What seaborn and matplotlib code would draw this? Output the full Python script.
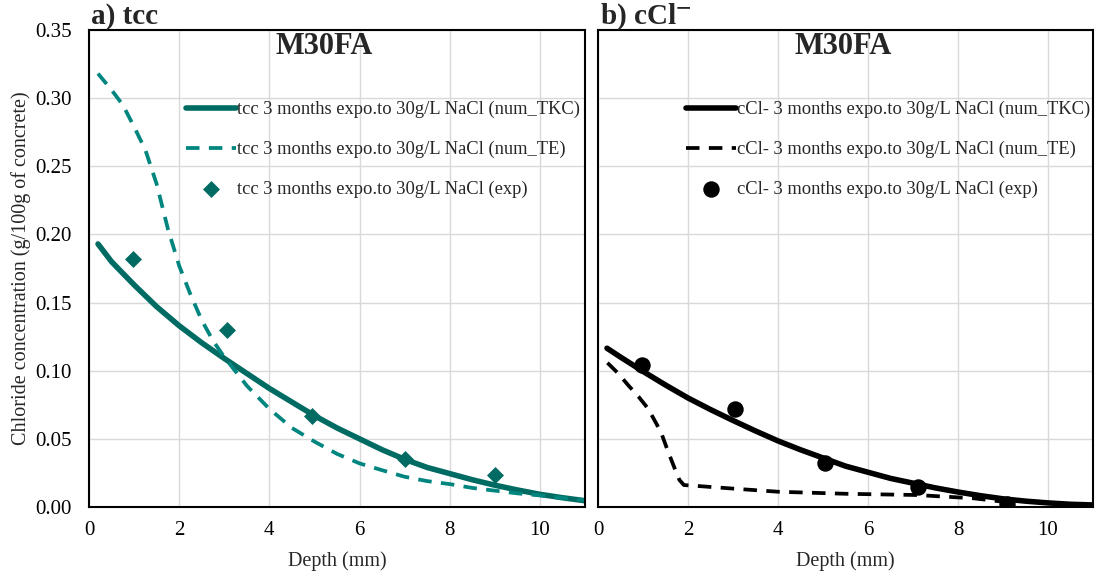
import matplotlib
matplotlib.use("Agg")
import matplotlib.pyplot as plt
import seaborn as sns

# ---- data ----
tcc_tkc_x = [0.2, 0.5, 1.0, 1.5, 2.0, 2.5, 3.0, 3.5, 4.0, 4.5, 5.0, 5.5, 6.0, 6.5, 7.0,
             7.5, 8.0, 8.5, 9.0, 9.5, 10.0, 10.5, 11.0]
tcc_tkc_y = [0.193, 0.180, 0.163, 0.147, 0.133, 0.1205, 0.109, 0.098, 0.087, 0.077, 0.067,
             0.058, 0.050, 0.042, 0.035, 0.029, 0.0245, 0.020, 0.016, 0.0125, 0.0093, 0.0068, 0.0046]

tcc_te_x = [0.2, 0.5, 0.75, 1.0, 1.25, 1.5, 1.75, 2.0, 2.25, 2.5, 2.75, 3.0, 3.5, 4.0, 4.5,
            5.0, 5.5, 6.0, 6.5, 7.0, 7.5, 8.0, 8.5, 9.0, 9.5, 10.0, 10.5, 11.0]
tcc_te_y = [0.318, 0.306, 0.295, 0.279, 0.262, 0.237, 0.204, 0.177, 0.156, 0.137, 0.122, 0.110,
            0.089, 0.072, 0.058, 0.048, 0.039, 0.032, 0.027, 0.0222, 0.019, 0.0168, 0.014, 0.012,
            0.010, 0.0085, 0.0066, 0.005]

tcc_exp_x = [0.98, 3.05, 4.95, 7.0, 9.0]
tcc_exp_y = [0.182, 0.130, 0.0667, 0.035, 0.0232]

ccl_tkc_x = [0.2, 0.5, 1.0, 1.5, 2.0, 2.5, 3.0, 3.5, 4.0, 4.5, 5.0, 5.5, 6.0, 6.5, 7.0, 7.5,
             8.0, 8.5, 9.0, 9.5, 10.0, 10.5, 11.0]
ccl_tkc_y = [0.1165, 0.110, 0.0995, 0.0895, 0.080, 0.0715, 0.0635, 0.0558, 0.0485, 0.042, 0.036,
             0.030, 0.0255, 0.021, 0.0175, 0.014, 0.011, 0.0083, 0.006, 0.0043, 0.003, 0.002, 0.0015]

ccl_te_x = [0.21, 0.45, 0.67, 0.9, 1.11, 1.3, 1.41, 1.52, 1.63, 1.72, 1.81, 1.91, 2.22, 3.0,
            4.0, 5.5, 7.08, 8.34, 9.1]
ccl_te_y = [0.1058, 0.098, 0.0894, 0.081, 0.0723, 0.061, 0.054, 0.044, 0.0345, 0.027, 0.0198,
            0.0161, 0.0154, 0.0135, 0.0112, 0.0097, 0.0088, 0.0064, 0.0035]

ccl_exp_x = [0.98, 3.05, 5.04, 7.1, 9.08]
ccl_exp_y = [0.104, 0.0718, 0.032, 0.0144, 0.0025]

x_ticks = [0, 2, 4, 6, 8, 10]
y_ticks = [0.00, 0.05, 0.10, 0.15, 0.20, 0.25, 0.30, 0.35]

lbl_tcc = ["tcc 3 months expo.to 30g/L NaCl (num_TKC)",
           "tcc 3 months expo.to 30g/L NaCl (num_TE)",
           "tcc 3 months expo.to 30g/L NaCl (exp)"]
lbl_ccl = ["cCl- 3 months expo.to 30g/L NaCl (num_TKC)",
           "cCl- 3 months expo.to 30g/L NaCl (num_TE)",
           "cCl- 3 months expo.to 30g/L NaCl (exp)"]

sns.set_style("white")
plt.rcParams["font.family"] = ["Liberation Serif", "DejaVu Serif"]
plt.rcParams["mathtext.fontset"] = "stix"

fig = plt.figure(figsize=(10.97, 5.74), dpi=100)
axL = fig.add_axes([89 / 1097, 67 / 574, 496 / 1097, 477 / 574])
axR = fig.add_axes([598 / 1097, 67 / 574, 495 / 1097, 477 / 574])

teal_dark = "#006B62"
teal = "#00857F"


def panel(ax, tkc_x, tkc_y, te_x, te_y, ex_x, ex_y, labels, c_solid, c_dash, marker, msize,
          leg_x, title_x):
    sns.lineplot(x=tkc_x, y=tkc_y, ax=ax, color=c_solid, linewidth=4.0, label=labels[0],
                 solid_capstyle="round", solid_joinstyle="round")
    sns.lineplot(x=te_x, y=te_y, ax=ax, color=c_dash, linewidth=2.7, label=labels[1])
    ax.lines[-1].set_dashes((3.6, 2.5))
    sns.scatterplot(x=ex_x, y=ex_y, ax=ax, color=c_solid, marker=marker, s=msize,
                    edgecolor=c_solid, linewidth=0, label=labels[2], zorder=5)
    ax.set_xlim(0, 11)
    ax.set_ylim(0, 0.35)
    ax.set_xticks(x_ticks)
    ax.set_yticks(y_ticks)
    ax.grid(True, color="#d9d9d9", linewidth=1.0)
    ax.set_axisbelow(True)
    for s in ax.spines.values():
        s.set_color("black")
        s.set_linewidth(1.5)
    ax.tick_params(axis="both", labelsize=15, direction="out", length=3.6, width=1.2,
                   colors="black", pad=6.5)
    ax.set_xlabel("Depth (mm)", fontsize=14.5, labelpad=8)
    ax.text(title_x, 0.995, "M30FA", transform=ax.transAxes, ha="center", va="top",
            fontsize=22, fontweight="bold")
    leg = ax.legend(loc="upper left", bbox_to_anchor=(leg_x, 0.851), frameon=False,
                    fontsize=13.3, labelspacing=1.22, handlelength=2.7, handletextpad=0.05,
                    borderaxespad=0.0, borderpad=0.0)
    return leg


panel(axL, tcc_tkc_x, tcc_tkc_y, tcc_te_x, tcc_te_y, tcc_exp_x, tcc_exp_y, lbl_tcc,
      teal_dark, teal, "D", 75, 0.196, 0.475)
panel(axR, ccl_tkc_x, ccl_tkc_y, ccl_te_x, ccl_te_y, ccl_exp_x, ccl_exp_y, lbl_ccl,
      "black", "black", "o", 140, 0.178, 0.495)

axL.yaxis.set_major_formatter(matplotlib.ticker.FormatStrFormatter("%.2f"))
axL.tick_params(axis="y", pad=9)
axL.set_ylabel("Chloride concentration (g/100g of concrete)", fontsize=14.5, labelpad=3)
axR.set_yticklabels([])
axR.tick_params(axis="y", length=0)
axR.set_ylabel("")

fig.text(91 / 1097, 1 - 17 / 574, "a) tcc", fontsize=21, fontweight="bold", va="center", ha="left")
fig.text(600 / 1097, 1 - 17 / 574, r"b) cCl$^{\mathbf{-}}$", fontsize=21, fontweight="bold",
         va="center", ha="left")

fig.savefig("out.png", dpi=100)
